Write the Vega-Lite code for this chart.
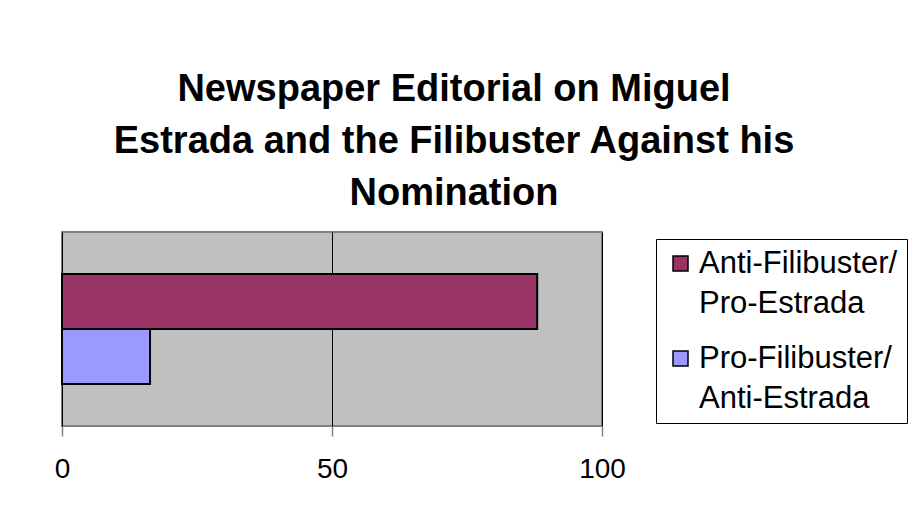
{
  "$schema": "https://vega.github.io/schema/vega-lite/v6.json",
  "width": 540,
  "height": 194,
  "autosize": {"type": "none"},
  "padding": {"left": 62, "top": 232, "right": 310, "bottom": 96},
  "background": "white",
  "title": {
    "text": ["Newspaper Editorial on Miguel", "Estrada and the Filibuster Against his", "Nomination"],
    "font": "Liberation Sans",
    "fontWeight": "bold",
    "fontSize": 38,
    "lineHeight": 52,
    "color": "black",
    "anchor": "middle",
    "dx": 122,
    "offset": 19
  },
  "data": {
    "values": [
      {"series": "Anti-Filibuster/ Pro-Estrada", "value": 88},
      {"series": "Pro-Filibuster/ Anti-Estrada", "value": 16.3}
    ]
  },
  "mark": {"type": "bar", "stroke": "black", "strokeWidth": 2, "orient": "horizontal"},
  "encoding": {
    "y": {
      "field": "series",
      "type": "nominal",
      "sort": null,
      "scale": {"paddingInner": 0, "paddingOuter": 0.764},
      "axis": null
    },
    "x": {
      "field": "value",
      "type": "quantitative",
      "scale": {"domain": [0, 100], "nice": false},
      "axis": {
        "values": [0, 50, 100],
        "grid": true,
        "gridColor": "black",
        "gridWidth": 1,
        "gridOpacity": 1,
        "domain": false,
        "tickColor": "#808080",
        "tickWidth": 1.5,
        "tickSize": 10,
        "labelFlush": false,
        "labelFont": "Liberation Sans",
        "labelFontSize": 28,
        "labelColor": "black",
        "labelPadding": 19,
        "title": null
      }
    },
    "color": {
      "field": "series",
      "type": "nominal",
      "sort": null,
      "scale": {"range": ["#993366", "#9999FF"]},
      "legend": {
        "orient": "none",
        "legendX": 594,
        "legendY": 7,
        "title": null,
        "labelExpr": "split(datum.label, ' ')",
        "labelFont": "Liberation Sans",
        "labelFontSize": 31,
        "labelColor": "black",
        "labelLimit": 400,
        "labelOffset": 3,
        "symbolType": "square",
        "symbolSize": 225,
        "symbolStrokeColor": "black",
        "symbolStrokeWidth": 1.5,
        "symbolOpacity": 1,
        "strokeColor": "black",
        "fillColor": "white",
        "padding": 9,
        "rowPadding": 23
      }
    }
  },
  "config": {
    "view": {"fill": "#C0C0C0", "stroke": "#808080", "strokeWidth": 2},
    "style": {"guide-label": {"lineHeight": 40}}
  }
}
